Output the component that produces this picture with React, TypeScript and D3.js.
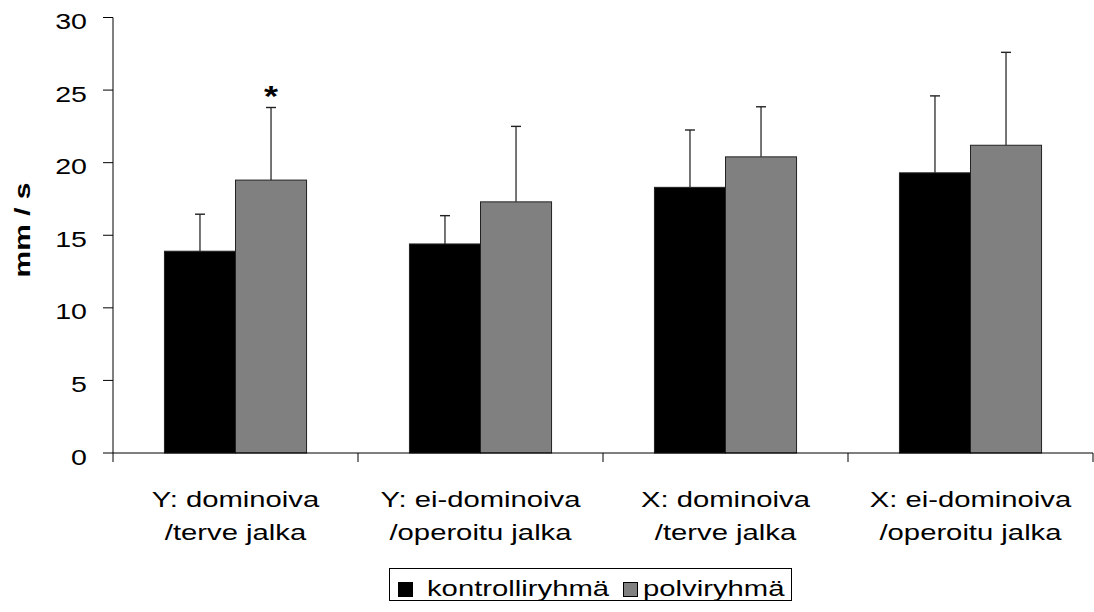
import React from "react";
import * as d3 from "d3";

const categories = [
  ["Y: dominoiva", "/terve jalka"],
  ["Y: ei-dominoiva", "/operoitu jalka"],
  ["X: dominoiva", "/terve jalka"],
  ["X: ei-dominoiva", "/operoitu jalka"],
];
const seriesNames = ["kontrolliryhmä", "polviryhmä"];
const seriesColors = ["#000000", "#808080"];
const kontrolliValues = [13.9, 14.4, 18.3, 19.3];
const kontrolliErrTop = [16.45, 16.35, 22.25, 24.6];
const polviValues = [18.8, 17.3, 20.4, 21.2];
const polviErrTop = [23.8, 22.5, 23.85, 27.6];
const yTicks = [0, 5, 10, 15, 20, 25, 30];
const significant = [true, false, false, false];

const W = 1094;
const H = 612;
const FONT = "'Liberation Sans', Arial, Helvetica, sans-serif";
const SX = 1.3;

export default function App() {
  const y = d3.scaleLinear().domain([0, 30]).range([453, 17.5]);
  const x0 = d3
    .scaleBand<number>()
    .domain(d3.range(categories.length))
    .range([113, 1093])
    .paddingInner(0)
    .paddingOuter(0);
  const bw = x0.bandwidth();
  const x1 = d3
    .scaleBand<number>()
    .domain([0, 1])
    .range([bw * 0.21, bw * 0.79]);
  const values = [kontrolliValues, polviValues];
  const errTops = [kontrolliErrTop, polviErrTop];

  return (
    <svg
      width={W}
      height={H}
      style={{ position: "absolute", left: 0, top: 0, background: "#fff" }}
      fontFamily={FONT}
    >
      {/* y axis */}
      <line x1={113} x2={113} y1={y(30)} y2={y(0)} stroke="#000" strokeWidth={1} />
      {yTicks.map((t) => (
        <g key={t}>
          <line x1={103} x2={113} y1={y(t)} y2={y(t)} stroke="#000" strokeWidth={1} />
          <text
            transform={`translate(87,${y(t) + 11.5}) scale(1.27,1)`}
            textAnchor="end"
            fontSize={22.5}
            fill="#000"
          >
            {t}
          </text>
        </g>
      ))}
      <text
        transform={`translate(30,230) rotate(-90) scale(1.33,1)`}
        textAnchor="middle"
        fontSize={22.5}
        fontWeight="bold"
        fill="#000"
      >
        mm / s
      </text>

      {/* bars */}
      {categories.map((c, ci) =>
        [0, 1].map((si) => {
          const bx = (x0(ci) as number) + (x1(si) as number);
          const w = x1.bandwidth();
          const v = values[si][ci];
          const e = errTops[si][ci];
          const cx = bx + w / 2;
          return (
            <g key={`${ci}-${si}`}>
              <line x1={cx} x2={cx} y1={y(v)} y2={y(e)} stroke="#3a3a3a" strokeWidth={1.4} />
              <line x1={cx - 5} x2={cx + 5} y1={y(e)} y2={y(e)} stroke="#222" strokeWidth={1.4} />
              <rect
                x={bx}
                y={y(v)}
                width={w}
                height={y(0) - y(v)}
                fill={seriesColors[si]}
                stroke="#222"
                strokeWidth={1}
              />
            </g>
          );
        })
      )}

      {/* significance */}
      {categories.map((c, ci) =>
        significant[ci] ? (
          <text
            key={`s${ci}`}
            transform={`translate(${(x0(ci) as number) + (x1(1) as number) + x1.bandwidth() / 2},${y(polviErrTop[ci]) - 2}) scale(1.2,1)`}
            textAnchor="middle"
            fontSize={30}
            fontWeight="bold"
            fill="#000"
          >
            *
          </text>
        ) : null
      )}

      {/* x axis */}
      <line x1={113} x2={1093} y1={y(0)} y2={y(0)} stroke="#000" strokeWidth={1} />
      {d3.range(categories.length + 1).map((i) => {
        const xx = 113 + i * bw;
        return <line key={i} x1={xx} x2={xx} y1={y(0)} y2={y(0) + 9} stroke="#000" strokeWidth={1} />;
      })}
      {categories.map((c, ci) => {
        const cx = (x0(ci) as number) + bw / 2;
        return (
          <g key={`l${ci}`}>
            <text transform={`translate(${cx},507) scale(${SX},1)`} textAnchor="middle" fontSize={22.5} fill="#000">
              {c[0]}
            </text>
            <text transform={`translate(${cx},540) scale(${SX},1)`} textAnchor="middle" fontSize={22.5} fill="#000">
              {c[1]}
            </text>
          </g>
        );
      })}

      {/* legend */}
      <rect x={389.5} y={568.5} width={402} height={32} fill="#fff" stroke="#000" strokeWidth={1} />
      <rect x={398.5} y={582.5} width={14} height={14} fill={seriesColors[0]} stroke="#000" />
      <text transform={`translate(427,596) scale(1.33,1)`} fontSize={22} fill="#000">
        {seriesNames[0]}
      </text>
      <rect x={623.5} y={582.5} width={14} height={14} fill={seriesColors[1]} stroke="#000" />
      <text transform={`translate(643,596) scale(1.33,1)`} fontSize={22} fill="#000">
        {seriesNames[1]}
      </text>
    </svg>
  );
}
